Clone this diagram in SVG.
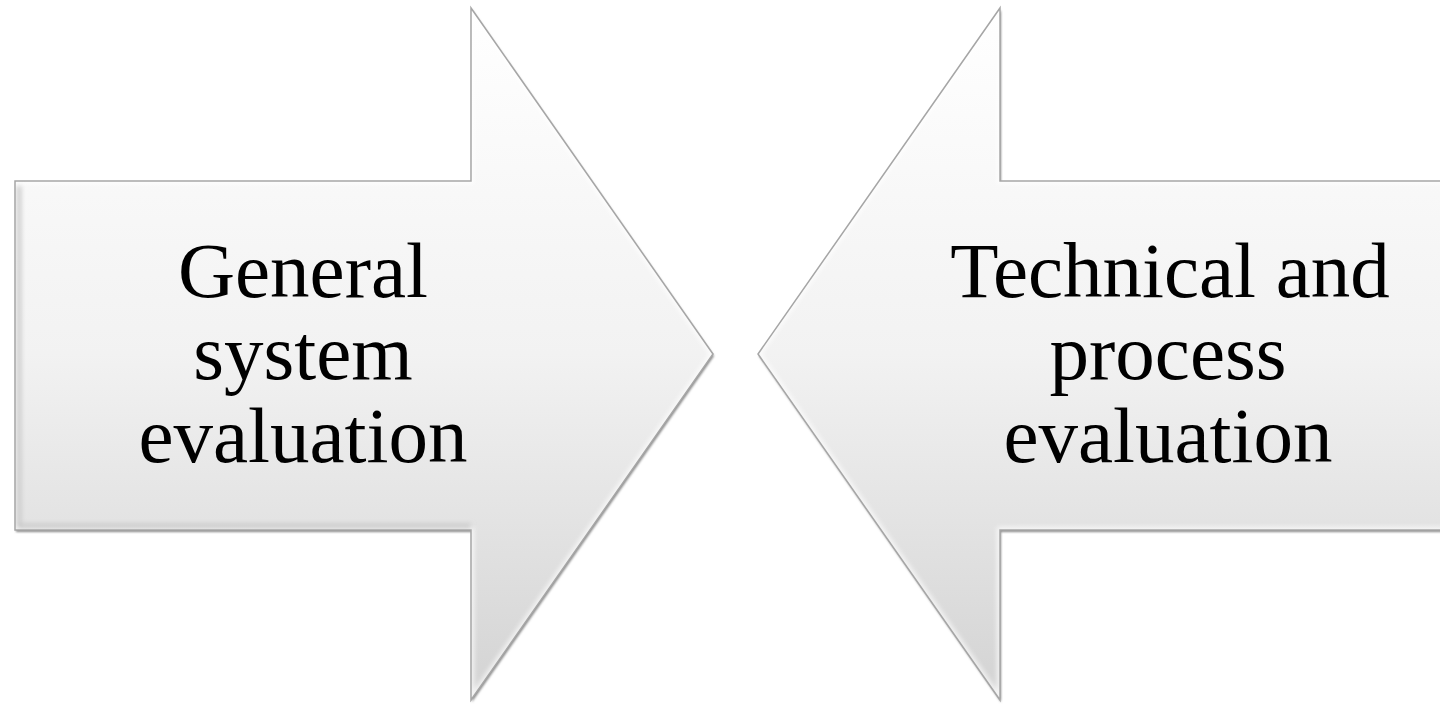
<svg xmlns="http://www.w3.org/2000/svg" width="1440" height="704" viewBox="0 0 1440 704">
  <style>
    .label { font-family: "Liberation Serif", "Times New Roman", serif; font-size: 79px; fill: #000; text-anchor: middle; }
    .edge { fill: none; stroke: #a6a6a6; stroke-width: 1.5; }
    .inner { fill: none; stroke: #ffffff; stroke-width: 6; opacity: 0.75; }
  </style>
  <defs>
    <linearGradient id="fillGrad" x1="0" y1="0" x2="0" y2="1">
      <stop offset="0" stop-color="#ffffff"/>
      <stop offset="0.5" stop-color="#f2f2f2"/>
      <stop offset="1" stop-color="#d3d3d3"/>
    </linearGradient>
    <filter id="soft" x="-5%" y="-5%" width="110%" height="110%">
      <feGaussianBlur stdDeviation="1.2"/>
    </filter>
    <filter id="bevelBlur" x="-5%" y="-5%" width="110%" height="110%">
      <feGaussianBlur stdDeviation="2.5"/>
    </filter>
    <clipPath id="clipLeft">
      <polygon points="15,181 471,181 471,8 713,354 471,700 471,530 15,530"/>
    </clipPath>
    <clipPath id="clipRight">
      <polygon points="1460,181 1000,181 1000,8 758,354 1000,700 1000,530 1460,530"/>
    </clipPath>
  </defs>

  <!-- Left arrow: general system evaluation -->
  <g id="node-general">
    <polygon points="16,183 472,183 472,10 714,356 472,702 472,532 16,532" fill="#8a8a8a" filter="url(#soft)"/>
    <polygon points="15,181 471,181 471,8 713,354 471,700 471,530 15,530" fill="url(#fillGrad)"/>
    <g clip-path="url(#clipLeft)">
      <polygon class="inner" points="15,181 471,181 471,8 713,354 471,700 471,530 15,530" filter="url(#bevelBlur)"/>
      <polyline points="19,186 19,526 471,526" fill="none" stroke="#c4c4c4" stroke-width="4" filter="url(#bevelBlur)"/>
    </g>
    <polygon class="edge" points="15,181 471,181 471,8 713,354 471,700 471,530 15,530"/>
    <text class="label" x="303" y="297">General</text>
    <text class="label" x="303" y="379">system</text>
    <text class="label" x="303" y="462">evaluation</text>
  </g>

  <!-- Right arrow: technical and process evaluation -->
  <g id="node-technical">
    <polygon points="1461,183 1001,183 1001,10 759,356 1001,702 1001,532 1461,532" fill="#8a8a8a" filter="url(#soft)"/>
    <polygon points="1460,181 1000,181 1000,8 758,354 1000,700 1000,530 1460,530" fill="url(#fillGrad)"/>
    <g clip-path="url(#clipRight)">
      <polygon class="inner" points="1460,181 1000,181 1000,8 758,354 1000,700 1000,530 1460,530" filter="url(#bevelBlur)"/>
    </g>
    <polygon class="edge" points="1460,181 1000,181 1000,8 758,354 1000,700 1000,530 1460,530"/>
    <text class="label" x="1170" y="297">Technical and</text>
    <text class="label" x="1168" y="379">process</text>
    <text class="label" x="1168" y="462">evaluation</text>
  </g>

  <!-- No separate connectors: the two arrows face each other -->
  <g id="connectors"/>
</svg>
